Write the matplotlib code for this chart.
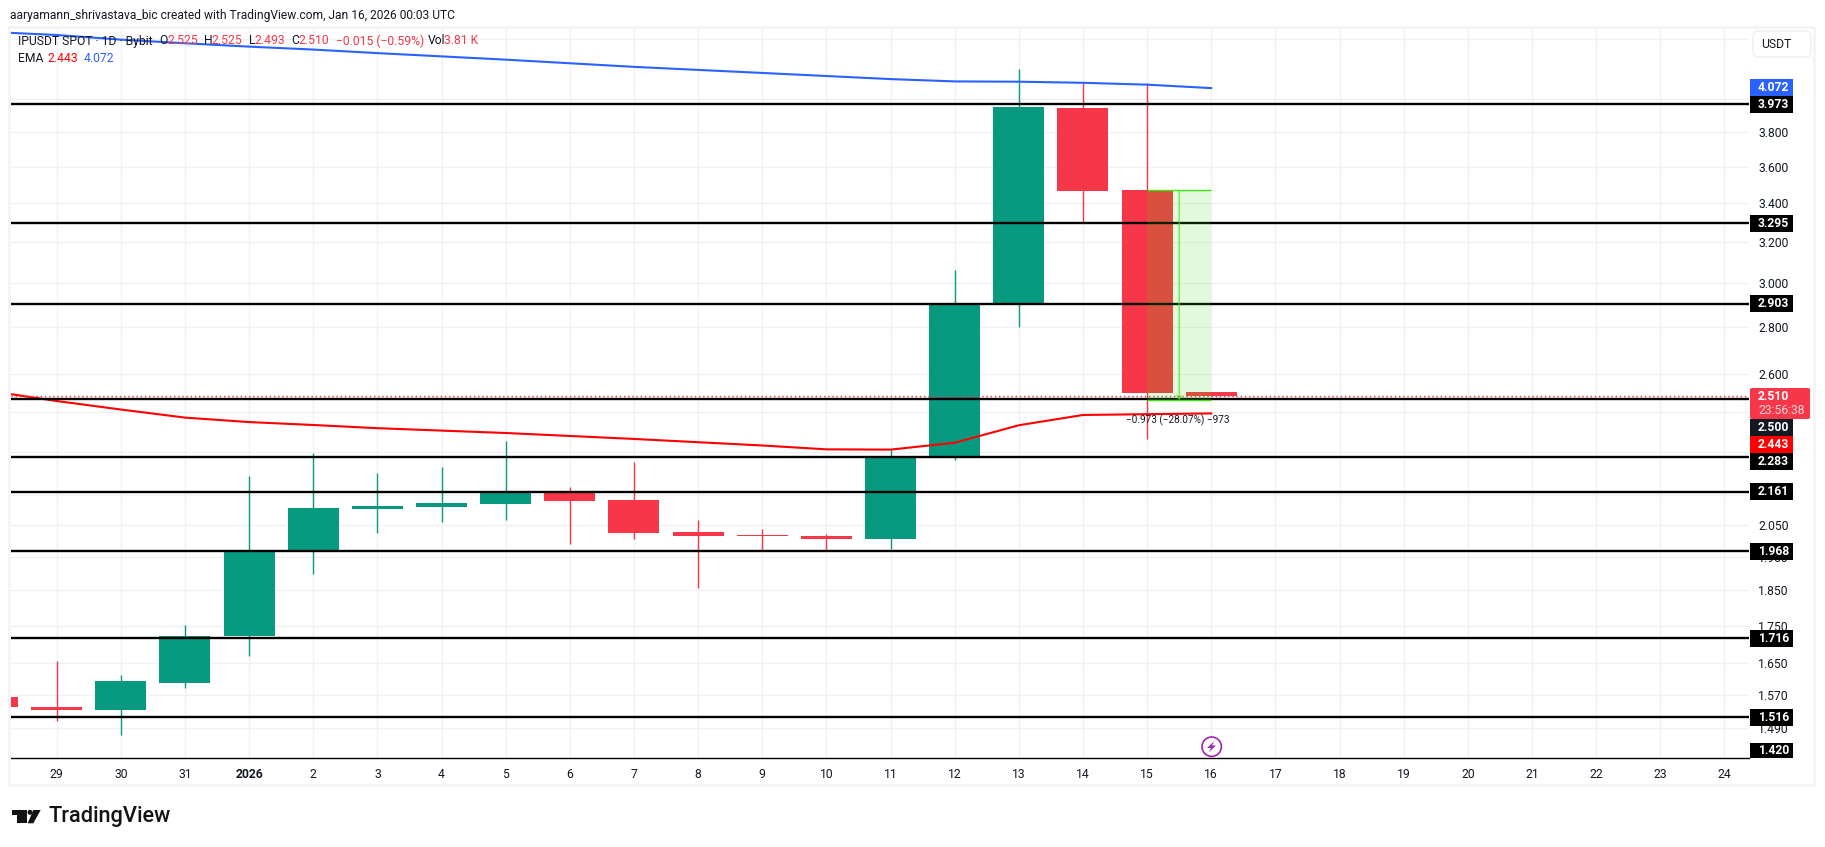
import matplotlib
matplotlib.use("Agg")
import matplotlib.pyplot as plt
from matplotlib.patches import Rectangle, FancyBboxPatch, Circle, Polygon
from matplotlib.ticker import NullLocator

plt.rcParams['font.family'] = ['Roboto', 'DejaVu Sans']

W, H = 1825, 847

# day 0 is Dec 29, day 18 is Jan 16
days = list(range(-1, 19))
opens = [1.566, 1.5415, 1.534, 1.601, 1.7215, 1.970, 2.103, 2.110, 2.119, 2.157, 2.133, 2.028, 2.017, 2.014, 2.005, 2.282, 2.898, 3.949, 3.468, 2.525]
closes = [1.540, 1.534, 1.604, 1.7225, 1.966, 2.106, 2.113, 2.123, 2.157, 2.130, 2.025, 2.014, 2.014, 2.005, 2.279, 2.903, 3.952, 3.465, 2.5225, 2.510]
highs = [1.566, 1.655, 1.619, 1.751, 2.215, 2.296, 2.225, 2.246, 2.340, 2.177, 2.264, 2.067, 2.039, 2.020, 2.307, 3.058, 4.196, 4.114, 4.104, 2.525]
lows = [1.540, 1.508, 1.475, 1.587, 1.668, 1.897, 2.026, 2.061, 2.067, 1.989, 2.005, 1.856, 1.970, 1.970, 1.973, 2.271, 2.800, 3.292, 2.347, 2.510]

ema_red = [2.529, 2.491, 2.458, 2.427, 2.410, 2.399, 2.387, 2.378, 2.369, 2.358, 2.347, 2.335, 2.323, 2.309, 2.308, 2.333, 2.398, 2.437, 2.440, 2.443]
ema_blue = [4.447, 4.426, 4.394, 4.369, 4.346, 4.326, 4.302, 4.280, 4.258, 4.234, 4.210, 4.190, 4.170, 4.150, 4.130, 4.115, 4.113, 4.106, 4.094, 4.072]

levels = [3.973, 3.295, 2.903, 2.500, 2.283, 2.161, 1.968, 1.716, 1.516]
last_price = 2.510
measure_top = 3.468
measure_bottom = 2.495

x_ticks = list(range(0, 27))
x_labels = ['29', '30', '31', '2026'] + [str(d) for d in range(2, 25)]

# the gridlines at 4.4, 4.0, 2.45, 2.3 and 2.15 have their labels hidden behind the boxes
price_grid = [4.4, 4.0, 3.8, 3.6, 3.4, 3.2, 3.0, 2.8, 2.6, 2.45, 2.3, 2.15, 2.05, 1.95, 1.85, 1.75, 1.65, 1.57, 1.49]
price_labels = ['', '', '3.800', '3.600', '3.400', '3.200', '3.000', '2.800', '2.600', '', '', '', '2.050', '1.950', '1.850', '1.750', '1.650', '1.570', '1.490']

# label text, box colour, top and bottom of the box in pixels
axis_boxes = [
    ('4.072', '#2962ff', 79, 96),
    ('3.973', '#000000', 96, 113),
    ('3.295', '#000000', 215, 232),
    ('2.903', '#000000', 295, 312),
    ('2.500', '#131722', 419, 436.5),
    ('2.443', '#ff0000', 436.5, 453),
    ('2.283', '#000000', 453, 470),
    ('2.161', '#000000', 483, 500),
    ('1.968', '#000000', 543, 560),
    ('1.716', '#000000', 630, 647),
    ('1.516', '#000000', 709, 726),
    ('1.420', '#000000', 743, 758),
]

GREEN = '#089981'
RED = '#f53749'
TEXT = '#131722'
MEASURE = '#3ee40f'

fig = plt.figure(figsize=(W / 100, H / 100), dpi=100, facecolor='white')

# price pane
left, right, top, bottom = 10.7, 1749, 29, 758
ax = fig.add_axes([left / W, 1 - bottom / H, (right - left) / W, (bottom - top) / H])
ax.set_yscale('log')
ax.set_xlim((left - 56.7) / 64.14, (right - 56.7) / 64.14)
ax.set_ylim(1.422, 4.468)
ax.yaxis.tick_right()
ax.set_yticks(price_grid, labels=price_labels)
ax.yaxis.set_minor_locator(NullLocator())
ax.set_xticks(x_ticks, labels=x_labels)
ax.tick_params(axis='both', length=0, labelsize=8.7, labelcolor=TEXT)
ax.tick_params(axis='y', pad=6.5)
ax.tick_params(axis='x', pad=7.3)
for lab in ax.get_xticklabels():
    if lab.get_text() == '2026':
        lab.set_fontweight('bold')
ax.grid(True, color='#f0f1f3', lw=1.0)
ax.set_axisbelow(True)
for s in ['top', 'left', 'right']:
    ax.spines[s].set_visible(False)
ax.spines['bottom'].set_linewidth(1.0)
ax.spines['bottom'].set_color('black')

# candles
colors = [GREEN if c > o else RED for o, c in zip(opens, closes)]
ax.vlines(days, lows, highs, colors=colors, lw=1.0, zorder=2)
body_low = [min(o, c) for o, c in zip(opens, closes)]
body_h = [abs(c - o) for o, c in zip(opens, closes)]
ax.bar(days, body_h, bottom=body_low, width=0.795, color=colors, linewidth=0, zorder=3)

# ema lines
ax.plot(days, ema_red, color='#ff0000', lw=1.5, zorder=4)
ax.plot(days, ema_blue, color='#2962ff', lw=1.5, zorder=4)

# last price and horizontal levels
ax.axhline(last_price, color=RED, lw=1, ls=(0, (1, 2)), zorder=5)
for lv in levels:
    ax.axhline(lv, color='black', lw=1.7, zorder=6)

# measure tool
ax.add_patch(Rectangle((17, measure_bottom), 1, measure_top - measure_bottom, color=MEASURE, alpha=0.15, lw=0, zorder=7))
ax.hlines([measure_top, measure_bottom], 17, 18, colors=MEASURE, lw=1.0, zorder=8)
ax.annotate('', xy=(17.5, measure_bottom), xytext=(17.5, measure_top), zorder=8,
            arrowprops=dict(arrowstyle='->,head_length=0.25,head_width=0.15', color=MEASURE, lw=0.7, shrinkA=0, shrinkB=0))

# overlay in pixel coordinates for the chart furniture
px = fig.add_axes([0, 0, 1, 1], zorder=10)
px.set_xlim(0, W)
px.set_ylim(H, 0)
px.axis('off')
px.patch.set_alpha(0)

px.add_patch(Rectangle((9.5, 27.5), 1805, 758, fill=False, ec='#f3f4f6', lw=2))

px.text(10.3, 15, 'aaryamann_shrivastava_bic created with TradingView.com, Jan 16, 2026 00:03 UTC',
        fontsize=8.68, color=TEXT, va='center')

# legend rows
row1 = [(18, 'IPUSDT SPOT · 1D · Bybit', TEXT), (159.6, 'O', TEXT), (167, '2.525', RED), (204, 'H', TEXT),
        (211.6, '2.525', RED), (248.8, 'L', TEXT), (254.5, '2.493', RED), (291.6, 'C', TEXT), (298.5, '2.510', RED),
        (336, '−0.015 (−0.59%)', RED), (428, 'Vol', TEXT), (444, '3.81 K', RED)]
for x, s, c in row1:
    px.text(x, 41, s, fontsize=8.7, color=c, va='center')
row2 = [(18, 'EMA', TEXT), (47.5, '2.443', '#ff0000'), (83.8, '4.072', '#2962ff')]
for x, s, c in row2:
    px.text(x, 58.7, s, fontsize=8.7, color=c, va='center')

# measure label
px.text(1178, 420.7, '−0.973 (−28.07%) −973', fontsize=7.2, color=TEXT, ha='center', va='center')

# usdt button
px.add_patch(FancyBboxPatch((1755, 33), 54, 22, boxstyle='round,pad=2,rounding_size=5', fc='white', ec='#f0f1f3', lw=1.2))
px.text(1776, 44.3, 'USDT', fontsize=8.7, color=TEXT, ha='center', va='center')

# price axis boxes
for s, c, y0, y1 in axis_boxes:
    px.add_patch(Rectangle((1750, y0), 43, y1 - y0, fc=c, ec='none'))
    px.text(1758, (y0 + y1) / 2, s, fontsize=8.7, color='white', fontweight='bold', va='center')
px.add_patch(FancyBboxPatch((1751, 389), 58, 29, boxstyle='round,pad=1,rounding_size=2', fc=RED, ec='none'))
px.text(1758, 396.3, '2.510', fontsize=8.7, color='white', fontweight='bold', va='center')
px.text(1758, 410.7, '23:56:38', fontsize=8.7, color='#fcd5d8', va='center')

# lightning marker
px.add_patch(Circle((1211.7, 746.7), 9.7, fill=False, ec='#9c27b0', lw=1.2))
px.add_patch(Polygon([(1214.5, 741), (1207, 748), (1211, 748), (1208.5, 752.5), (1216, 745.5), (1212, 745.5)], fc='#9c27b0', ec='none'))

# logo
px.add_patch(Polygon([(12.3, 810), (26.7, 810), (26.7, 823.3), (17.3, 823.3), (17.3, 815.5), (12.3, 815.5)], fc='#131313', ec='none'))
px.add_patch(Circle((30, 812.3), 2.5, fc='#131313', ec='none'))
px.add_patch(Polygon([(33.3, 810), (40.7, 810), (33.3, 823.3), (27.7, 823.3)], fc='#131313', ec='none'))
px.text(49, 816.7, 'TradingView', fontsize=15.7, color='#131313', fontweight='medium', va='center')

fig.savefig('out.png', dpi=100)
